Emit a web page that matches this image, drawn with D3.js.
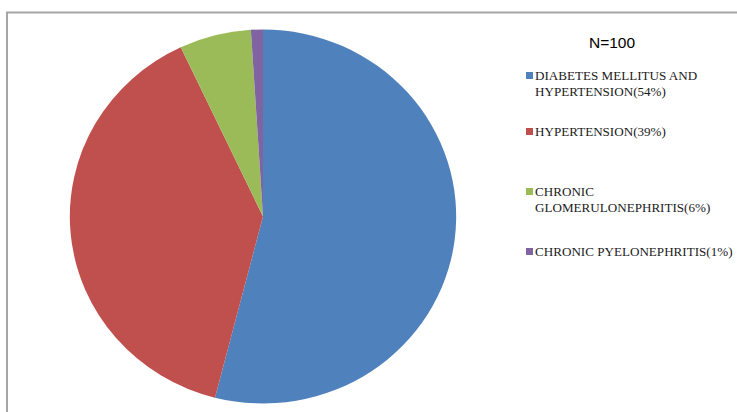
<html>
<head>
<style>
  body { margin: 0; background: #fff; }
  svg { display: block; }
  .legend text { font-family: "Liberation Serif", "Times New Roman", serif; font-size: 13.1px; fill: #1a1a1a; }
</style>
</head>
<body>
<svg id="container" width="737" height="412">
  <rect x="7" y="12.5" width="740" height="410" fill="none" stroke="#a6a6a6" stroke-width="2"></rect>
  <g id="pie" transform="translate(263,216.5) scale(1.033,1)"></g>
  <g id="legend" class="legend"></g>
</svg>

<script src="https://cdn.jsdelivr.net/npm/d3@7"></script>
<script>
let labels = [
  ["DIABETES MELLITUS AND", "HYPERTENSION(54%)"],
  ["HYPERTENSION(39%)"],
  ["CHRONIC", "GLOMERULONEPHRITIS(6%)"],
  ["CHRONIC PYELONEPHRITIS(1%)"]
]
let values = [54, 39, 6, 1]
let colors = ["#4F81BD", "#C0504D", "#9BBB59", "#8064A2"]
let title = "N=100"

let pie = d3.pie().sort(null).value(d => d)
let arc = d3.arc().innerRadius(0).outerRadius(187)

let colorScale = d3.scaleOrdinal().domain(d3.range(values.length)).range(colors)

d3.select("#pie").selectAll("path")
  .data(pie(values))
  .enter()
  .append("path")
  .attr("d", arc)
  .attr("fill", (d, i) => colorScale(i))

let legend = d3.select("#legend")

legend.append("text")
  .attr("x", 612)
  .attr("y", 48)
  .attr("text-anchor", "middle")
  .style("font-family", "'Liberation Sans', Arial, sans-serif")
  .style("font-size", "15.5px")
  .style("fill", "#000")
  .text(title)

// legend rows, baseline of each first line
let rowY = d3.scaleOrdinal().domain(d3.range(4)).range([80, 136, 196, 256])

let item = legend.selectAll(".item")
  .data(labels)
  .enter()
  .append("g")
  .attr("class", "item")
  .attr("transform", (d, i) => `translate(0,${rowY(i)})`)

item.append("rect")
  .attr("x", 526)
  .attr("y", -8)
  .attr("width", 7)
  .attr("height", 7)
  .attr("fill", (d, i) => colorScale(i))

item.selectAll("text")
  .data(d => d)
  .enter()
  .append("text")
  .attr("x", 535)
  .attr("y", (d, j) => j * 16)
  .text(d => d)
</script>
</body>
</html>
